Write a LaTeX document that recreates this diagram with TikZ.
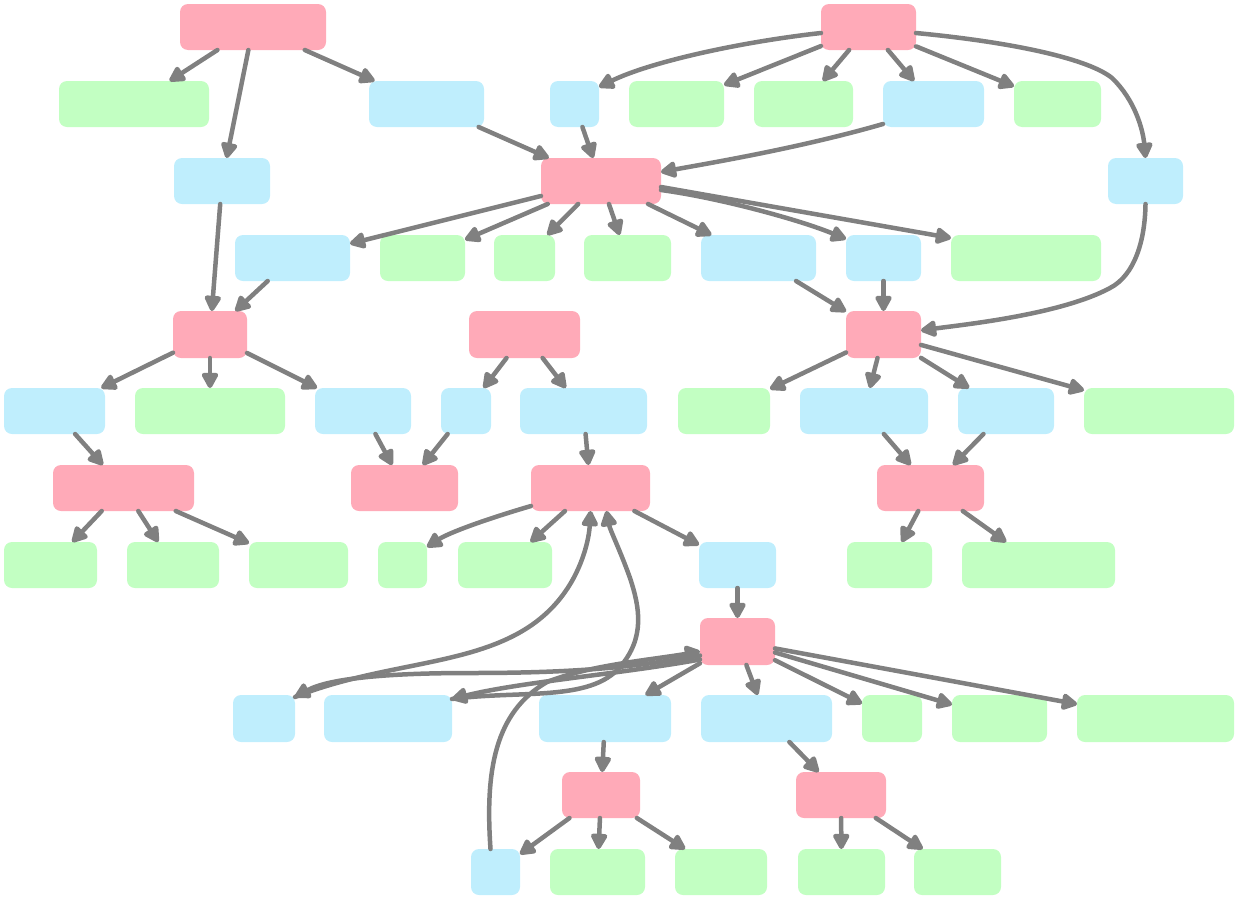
\documentclass[tikz,border=0pt]{standalone}
\usetikzlibrary{arrows.meta}
\definecolor{pk}{RGB}{255,170,184}
\definecolor{bl}{RGB}{191,238,253}
\definecolor{gr}{RGB}{194,255,194}
\definecolor{ln}{RGB}{128,128,128}
\tikzset{
 box/.style={rounded corners=8pt, inner sep=0pt, outer sep=0pt},
 pnode/.style={box, fill=pk},
 bnode/.style={box, fill=bl},
 gnode/.style={box, fill=gr},
 e/.style={draw=ln, line width=4.5pt, line cap=round, -{Triangle[length=18pt,width=18pt,round]}}
}
\newcommand\nd[6]{\node[#2, minimum width=#5pt-#3pt, minimum height=#6pt-#4pt] (#1) at ({(#3+#5)/2},{(#4+#6)/2}) {};}
\begin{document}
\begin{tikzpicture}[x=1pt,y=-1pt]
\useasboundingbox (0,0) rectangle (1238,900);
% row 1
\nd{P1}{pnode}{180}{4}{326}{50}
\nd{P3}{pnode}{821}{4}{916}{50}
% row 2
\nd{G1}{gnode}{59}{81}{209}{127}
\nd{B1}{bnode}{369}{81}{484}{127}
\nd{B4}{bnode}{550}{81}{599}{127}
\nd{G2}{gnode}{629}{81}{724}{127}
\nd{G3}{gnode}{754}{81}{853}{127}
\nd{B5}{bnode}{883}{81}{984}{127}
\nd{G4}{gnode}{1014}{81}{1101}{127}
% row 3
\nd{Bl}{bnode}{174}{158}{270}{204}
\nd{P4}{pnode}{541}{158}{661}{204}
\nd{B6}{bnode}{1108}{158}{1183}{204}
% row 4
\nd{B7}{bnode}{235}{235}{350}{281}
\nd{G5}{gnode}{380}{235}{465}{281}
\nd{G6}{gnode}{494}{235}{555}{281}
\nd{G7}{gnode}{584}{235}{671}{281}
\nd{B8}{bnode}{701}{235}{816}{281}
\nd{B9}{bnode}{846}{235}{921}{281}
\nd{G8}{gnode}{951}{235}{1101}{281}
% row 5
\nd{P5}{pnode}{173}{311}{247}{358}
\nd{P6}{pnode}{469}{311}{580}{358}
\nd{P7}{pnode}{846}{311}{921}{358}
% row 6
\nd{B10}{bnode}{4}{388}{105}{434}
\nd{G9}{gnode}{135}{388}{285}{434}
\nd{B11}{bnode}{315}{388}{411}{434}
\nd{B12}{bnode}{441}{388}{491}{434}
\nd{B13}{bnode}{520}{388}{647}{434}
\nd{G10}{gnode}{678}{388}{770}{434}
\nd{B14}{bnode}{800}{388}{928}{434}
\nd{B15}{bnode}{958}{388}{1054}{434}
\nd{G11}{gnode}{1084}{388}{1234}{434}
% row 7
\nd{P8}{pnode}{53}{465}{194}{511}
\nd{P9}{pnode}{351}{465}{458}{511}
\nd{P10}{pnode}{531}{465}{650}{511}
\nd{P11}{pnode}{877}{465}{984}{511}
% row 8
\nd{G12}{gnode}{4}{542}{97}{588}
\nd{G13}{gnode}{127}{542}{219}{588}
\nd{G14}{gnode}{249}{542}{348}{588}
\nd{G15}{gnode}{378}{542}{427}{588}
\nd{G16}{gnode}{458}{542}{552}{588}
\nd{B16}{bnode}{699}{542}{776}{588}
\nd{G17}{gnode}{847}{542}{932}{588}
\nd{G18}{gnode}{962}{542}{1115}{588}
% row 9
\nd{P12}{pnode}{700}{618}{775}{665}
% row 10
\nd{B17}{bnode}{233}{695}{295}{742}
\nd{B18}{bnode}{324}{695}{452}{742}
\nd{B19}{bnode}{539}{695}{671}{742}
\nd{B20}{bnode}{701}{695}{832}{742}
\nd{G19}{gnode}{862}{695}{922}{742}
\nd{G20}{gnode}{952}{695}{1047}{742}
\nd{G21}{gnode}{1077}{695}{1234}{742}
% row 11
\nd{P13}{pnode}{562}{772}{640}{818}
\nd{P14}{pnode}{796}{772}{886}{818}
% row 12
\nd{B21}{bnode}{471}{849}{520}{895}
\nd{G22}{gnode}{550}{849}{645}{895}
\nd{G23}{gnode}{675}{849}{767}{895}
\nd{G24}{gnode}{798}{849}{885}{895}
\nd{G25}{gnode}{914}{849}{1001}{895}

% straight edges
\draw[e] (P1) -- (G1);
\draw[e] (P1) -- (Bl);
\draw[e] (P1) -- (B1);
\draw[e] (B1) -- (P4);
\draw[e] (P3) -- (G2);
\draw[e] (P3) -- (G3);
\draw[e] (P3) -- (B5);
\draw[e] (P3) -- (G4);
\draw[e] (B4) -- (P4);
\draw[e] (P4) -- (B7);
\draw[e] (P4) -- (G5);
\draw[e] (P4) -- (G6);
\draw[e] (P4) -- (G7);
\draw[e] (P4) -- (B8);
\draw[e] ([yshift=-6]P4.east) -- ([yshift=-3]G8.north west);
\draw[e] (Bl) -- (P5);
\draw[e] (B7) -- (P5);
\draw[e] (B8) -- (P7);
\draw[e] (B9) -- (P7);
\draw[e] (P5) -- (B10);
\draw[e] (P5) -- (G9);
\draw[e] (P5) -- (B11);
\draw[e] (P6) -- (B12);
\draw[e] (P6) -- (B13);
\draw[e] (P7) -- (G10);
\draw[e] (P7) -- (B14);
\draw[e] (P7) -- (B15);
\draw[e] (P7) -- (G11);
\draw[e] (B10) -- (P8);
\draw[e] (B11) -- (P9);
\draw[e] (B12) -- (P9);
\draw[e] (B13) -- (P10);
\draw[e] (B14) -- (P11);
\draw[e] (B15) -- (P11);
\draw[e] (P8) -- (G12);
\draw[e] (P8) -- (G13);
\draw[e] (P8) -- (G14);
\draw[e] (P10) -- (G16);
\draw[e] (P10) -- (B16);
\draw[e] (P11) -- (G17);
\draw[e] (P11) -- (G18);
\draw[e] (B16) -- (P12);
\draw[e] (P12) -- (B19);
\draw[e] (P12) -- (B20);
\draw[e] (P12) -- (G19);
\draw[e] (P12) -- (G20);
\draw[e] (P12) -- (G21);
\draw[e] (B19) -- (P13);
\draw[e] (B20) -- (P14);
\draw[e] (P13) -- (B21);
\draw[e] (P13) -- (G22);
\draw[e] (P13) -- (G23);
\draw[e] (P14) -- (G24);
\draw[e] (P14) -- (G25);

% curved edges
\draw[e] ([yshift=-6]P3.west) .. controls (740,42) and (650,62) .. ([yshift=-6]B4.north east);
\draw[e] ([yshift=-6]P3.east) .. controls (1020,43) and (1090,60) .. (1112,78)
   .. controls (1135,100) and (1143,130) .. (B6.north);
\draw[e] ([yshift=3]B5.south west) .. controls (800,148) and (710,163) .. ([yshift=9]P4.east);
\draw[e] ([yshift=-9]P4.east) .. controls (720,198) and (800,220) .. ([yshift=-4]B9.north west);
\draw[e] (B6.south) .. controls (1145,240) and (1135,275) .. (1110,288)
   .. controls (1060,315) and (960,325) .. ([yshift=4]P7.east);
\draw[e] ([yshift=5]P10.south west) .. controls (490,518) and (450,532) .. ([yshift=-5]G15.north east);

% lower tangle
\draw[e] ([yshift=-14]P12.west) .. controls (630,668) and (570,673) .. (470,673)
   .. controls (390,673) and (330,678) .. ([yshift=-2]B17.north east);
\draw[e] ([yshift=-18]P12.west) .. controls (620,674) and (520,682) .. ([yshift=-4]B18.north east);
\draw[e] ([yshift=-2]B17.north east) .. controls (400,655) and (510,670) .. (565,592)
   .. controls (582,568) and (589,540) .. (P10.south);
\draw[e] ([yshift=-4]B18.north east) .. controls (520,690) and (590,702) .. (620,667)
   .. controls (645,638) and (640,608) .. (630,578)
   .. controls (620,550) and (610,530) .. ([xshift=16]P10.south);
\draw[e] ([xshift=-5]B21.north) .. controls (485,770) and (495,712) .. (547,682)
   .. controls (590,665) and (650,660) .. ([yshift=-10]P12.west);
\end{tikzpicture}
\end{document}
